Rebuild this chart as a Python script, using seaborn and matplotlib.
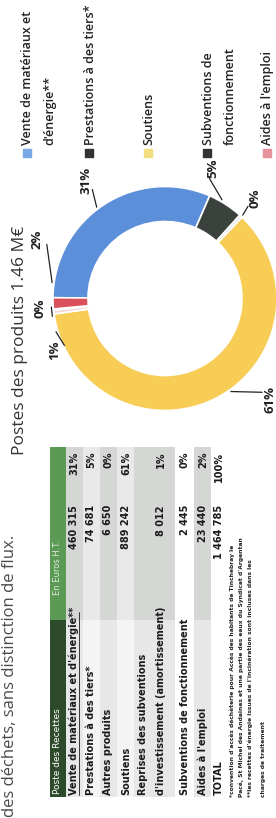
"""
Postes des produits - donut + tableau des recettes (page scannée, tournée de 90°)
"""

import numpy as np
import matplotlib.pyplot as plt
import seaborn as sns

sns.set_theme(style="white")
plt.rcParams["font.family"] = ["Open Sans", "DejaVu Sans"]

# ---------------------------------------------------------
# Données
# ---------------------------------------------------------
postes = ["Vente de matériaux et d'énergie**", "Prestations à des tiers*", "Autres produits",
          "Soutiens", "Reprises des subventions", "Subventions de fonctionnement",
          "Aides à l'emploi"]
postes_ligne2 = ["", "", "", "", "d'investissement (amortissement)", "", ""]
montants = [460315, 74681, 6650, 889242, 8012, 2445, 23440]
couleurs = ["#5b8fd9", "#3b423d", "#e6e6e6", "#f7cd56", "#f3d7d7", "#c8c8c8", "#d9505a"]

legende_labels = [["Vente de matériaux et", "d'énergie**"], ["Prestations à des tiers*"],
                  ["Soutiens"], ["Subventions de", "fonctionnement"], ["Aides à l'emploi"]]
legende_couleurs = ["#7aa7e6", "#333333", "#f2dd80", "#333333", "#e8929b"]

titre = "Postes des produits 1.46 M€"
texte_haut = "des déchets, sans distinction de flux."
notes = ["*convention d'accès déchèterie pour Accès des habitants de Tinchebray le",
         "Pacé, St Michel des Andaines et une partie des eaux du Syndicat d'Argentan",
         "**les recettes d'énergie issues de l'incinération sont incluses dans les",
         "charges de traitement"]

total = sum(montants)
pct = [round(100 * m / total) for m in montants]

# ---------------------------------------------------------
# Figure (portrait, contenu tourné de 90°)
# ---------------------------------------------------------
W, H = 276, 818
fig = plt.figure(figsize=(W / 100, H / 100), dpi=100)
ax = fig.add_axes([0, 0, 1, 1])


def Y(v):
    return H - v


# donut
cx, cy = 165, Y(298.5)
r_out, r_in = 112, 77
ax.pie(montants, colors=couleurs, startangle=179.6, counterclock=False,
       radius=r_out, center=(cx, cy),
       wedgeprops=dict(width=r_out - r_in, edgecolor="white", linewidth=1.2))

# étiquettes % du donut : (angle ligne départ, angle étiquette, rayon étiquette)
lab_layout = [(126.8, 123.7, 142), (60, 69.7, 139), (47, 48, 135), (-54.7, -44, 146),
              (197, 205, 122), (189, 184.3, 125), (172, 155.4, 141)]
for p, (a0, a1, rl) in zip(pct, lab_layout):
    t0, t1 = np.radians(a0), np.radians(a1)
    x0, y0 = cx + (r_out + 2) * np.cos(t0), cy + (r_out + 2) * np.sin(t0)
    x1, y1 = cx + (rl - 11) * np.cos(t1), cy + (rl - 11) * np.sin(t1)
    ax.plot([x0, x1], [y0, y1], color="#222222", lw=0.9)
    ax.text(cx + rl * np.cos(t1), cy + rl * np.sin(t1), f"{p}%", rotation=90,
            ha="center", va="center", fontsize=9.5, fontweight="bold", color="#222222")

# légende
leg_x = [27, 89, 148, 207, 267]
for xx, lignes, c in zip(leg_x, legende_labels, legende_couleurs):
    ax.scatter([xx], [Y(153)], marker="s", s=30, color=c, zorder=5)
    for k, l in enumerate(lignes):
        ax.text(xx + 1 + 22 * k, Y(145), l, rotation=90, ha="center", va="bottom",
                fontsize=9, fontweight="semibold", color="#222222")

# titres
ax.text(20, Y(455), titre, rotation=90, ha="center", va="bottom", fontsize=12.5, color="#333333")
ax.text(10, Y(817), texte_haut, rotation=90, ha="center", va="bottom", fontsize=12, color="#4a4a4a")

# ---------------------------------------------------------
# Tableau
# ---------------------------------------------------------
y_left, y_split, y_amt, y_pct, y_right = 797, 620, 505, 452, 447
ax.fill_between([50, 66], Y(y_split), Y(y_right), color="#5b9a55", lw=0)
ax.fill_between([50, 66], Y(y_left), Y(y_split), color="#2d4a2a", lw=0)
ax.text(58, Y(794), "Poste des Recettes", rotation=90, ha="center", va="bottom",
        fontsize=6.5, color="white", family=["Liberation Sans Narrow", "DejaVu Sans"])
ax.text(58, Y(540), "En Euros H.T.", rotation=90, ha="center", va="top",
        fontsize=6, color="#dfe9dc", family=["Liberation Sans Narrow", "DejaVu Sans"])

bands = [(66, 83), (83, 100), (100, 117), (117, 134), (134, 175), (175, 194), (194, 211)]
fonds = ["#d5d7d5", "#e9e9e9", "#d5d7d5", "#e9e9e9", "#d5d7d5", "#ffffff", "#d5d7d5"]
fonds_lab = ["#e6e7e6", "#f4f4f4", "#e6e7e6", "#f4f4f4", "#e6e7e6", "#ffffff", "#e6e7e6"]
centres = [74, 91, 108, 126, 161, 185, 203]
narrow = ["Liberation Sans Narrow", "DejaVu Sans"]
for (b0, b1), f, fl, xc, lab, lab2, m, p in zip(bands, fonds, fonds_lab, centres,
                                                postes, postes_ligne2, montants, pct):
    ax.fill_between([b0, b1], Y(y_split), Y(y_right), color=f, lw=0)
    ax.fill_between([b0, b1], Y(y_left), Y(y_split), color=fl, lw=0)
    if lab2:
        ax.text(143, Y(795), lab, rotation=90, ha="center", va="bottom", fontsize=7,
                fontweight="bold", color="#1a1a1a", family=narrow)
        ax.text(xc, Y(795), lab2, rotation=90, ha="center", va="bottom", fontsize=7,
                fontweight="bold", color="#1a1a1a", family=narrow)
    else:
        ax.text(xc, Y(795), lab, rotation=90, ha="center", va="bottom", fontsize=7,
                fontweight="bold", color="#1a1a1a", family=narrow)
    ax.text(xc, Y(y_amt), f"{m:,}".replace(",", " "), rotation=90, ha="center", va="top",
            fontsize=7, fontweight="bold", color="#1a1a1a", family=narrow)
    ax.text(xc, Y(y_pct), f"{p}%", rotation=90, ha="center", va="top", fontsize=7,
            fontweight="bold", color="#1a1a1a", family=narrow)

# soulignement de la première ligne
ax.plot([79, 79], [Y(795), Y(612)], color="#1a1a1a", lw=0.6)

# total
ax.text(219, Y(795), "TOTAL", rotation=90, ha="center", va="bottom", fontsize=7,
        fontweight="bold", color="#1a1a1a", family=narrow)
ax.text(219, Y(y_amt), f"{total:,}".replace(",", " "), rotation=90, ha="center", va="top",
        fontsize=7, fontweight="bold", color="#1a1a1a", family=narrow)
ax.text(219, Y(y_pct), "100%", rotation=90, ha="center", va="top", fontsize=7,
        fontweight="bold", color="#1a1a1a", family=narrow)

# notes
for xx, n in zip([232, 241, 250, 263], notes):
    ax.text(xx, Y(797), n, rotation=90, ha="center", va="bottom", fontsize=4.3,
            fontweight="bold", color="#222222", family=narrow)

ax.set_xlim(0, W)
ax.set_ylim(0, H)
ax.set_aspect("auto")
ax.axis("off")

plt.savefig("out.png", dpi=100, facecolor="white")
plt.close()
